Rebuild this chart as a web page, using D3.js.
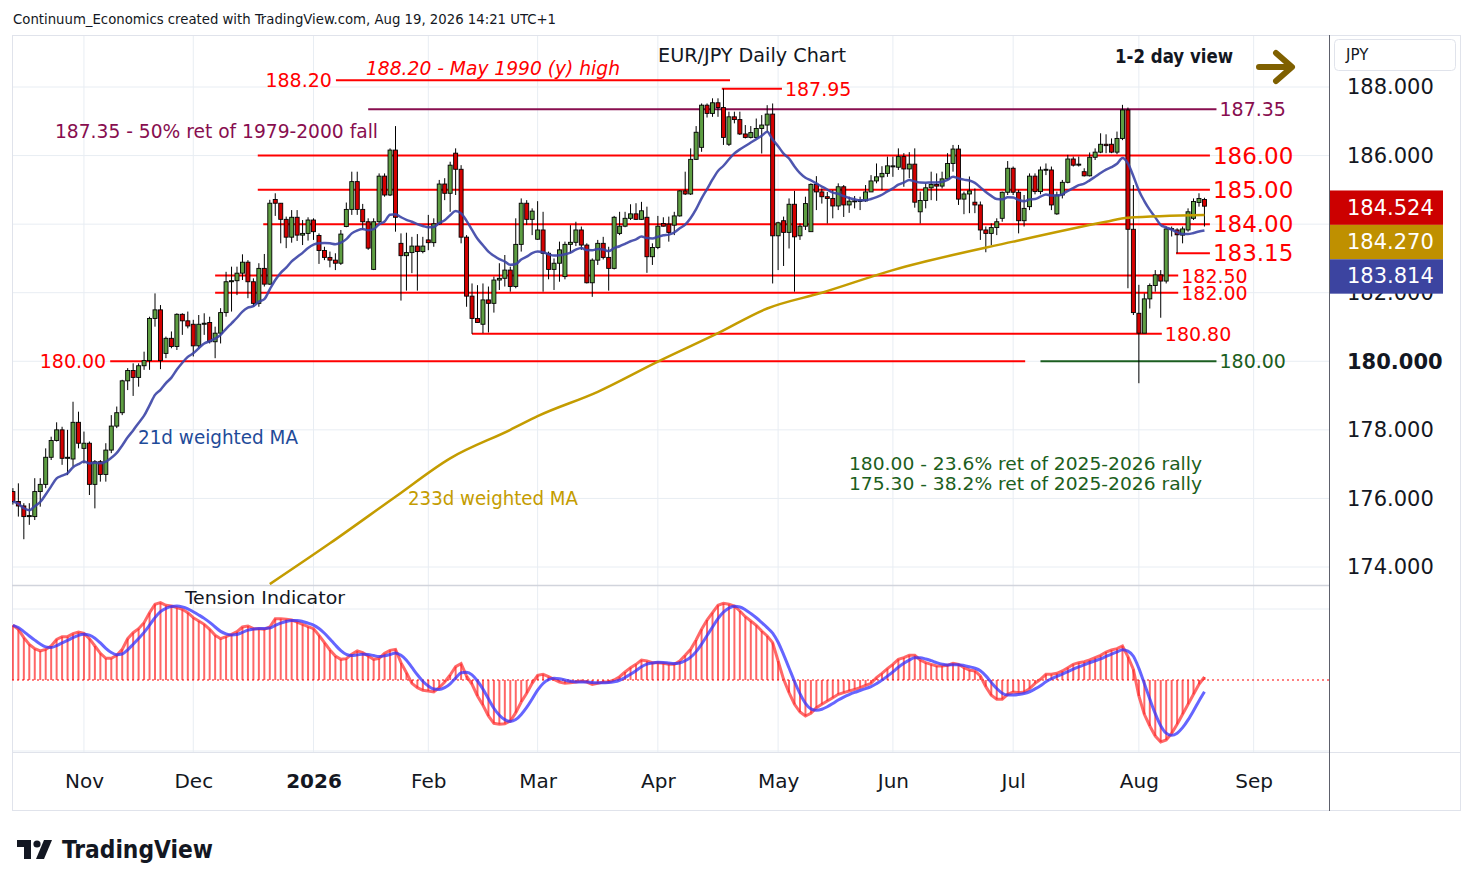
<!DOCTYPE html>
<html>
<head>
<meta charset="utf-8"/>
<style>
  body { margin: 0; background: white; }
  text { font-family: "DejaVu Sans", sans-serif; }
  .cond { font-family: "DejaVu Sans Condensed", "DejaVu Sans", sans-serif; }
</style>
<script src="https://d3js.org/d3.v7.min.js"></script>
</head>
<body>
<script>
var width = 1474, height = 887;

// first trading bar of each month, and its axis label
var monthIdx = [13, 33, 55, 76, 96, 118, 140, 161, 183, 206, 227];
var monthLabels = ["Nov", "Dec", "2026", "Feb", "Mar", "Apr", "May", "Jun", "Jul", "Aug", "Sep"];
var priceTicks = [174, 176, 178, 180, 182, 184, 186, 188];

// daily EUR/JPY bars, 15 Oct 2025 .. 19 Aug 2026
var opens = [
176.20,175.91,175.78,175.47,175.47,176.20,176.41,177.20,177.69,178.00,
177.17,177.15,178.22,177.46,177.61,176.41,177.07,176.70,177.41,178.11,
178.50,179.43,179.73,179.53,179.87,180.02,181.25,181.50,180.23,180.67,
180.43,181.37,181.18,181.08,180.45,181.08,181.13,180.57,180.82,181.42,
182.32,182.35,182.57,182.89,182.32,181.69,182.71,182.25,184.72,184.61,
184.14,183.62,184.20,183.68,183.73,184.12,183.67,183.23,183.03,182.95,
182.86,183.93,184.43,185.24,184.43,184.07,182.68,184.07,185.40,184.85,
186.16,183.44,183.08,183.17,183.36,183.20,183.54,183.46,184.01,185.17,
184.90,186.07,185.60,183.62,181.90,181.25,181.08,181.79,181.69,182.37,
182.42,182.66,182.18,183.41,184.61,184.14,183.56,183.83,183.15,182.68,
182.86,182.47,183.41,183.47,183.83,183.39,182.29,182.95,183.44,183.03,
182.71,183.73,183.94,184.17,184.30,184.14,184.20,183.05,183.32,184.02,
184.00,183.97,184.24,184.97,184.88,185.89,186.24,187.47,187.23,187.54,
187.40,186.33,187.13,187.05,186.63,186.53,186.53,186.79,186.89,187.21,
183.66,184.10,183.76,184.58,183.66,183.94,183.78,185.16,184.94,184.80,
184.75,184.53,185.09,184.56,184.67,184.66,184.68,184.94,185.26,185.38,
185.48,185.68,185.66,185.97,185.61,185.75,184.36,184.69,185.06,185.16,
185.11,185.32,185.77,186.19,184.73,184.88,184.64,184.56,183.83,183.73,
183.90,184.17,184.93,185.63,184.93,184.10,184.51,185.40,184.95,185.58,
185.58,184.30,184.85,185.22,185.90,185.74,185.53,185.41,185.95,186.10,
186.33,186.33,186.10,186.50,187.33,183.85,181.40,180.82,181.82,182.21,
182.52,182.34,183.86,183.83,183.68,183.83,184.17,184.63,184.72];
var highs = [
176.30,176.44,175.86,175.86,176.59,176.59,177.46,177.80,178.22,178.09,
178.00,178.82,178.53,177.95,177.66,177.12,177.12,177.61,178.43,178.68,
179.46,179.80,179.94,179.94,180.28,181.30,181.98,181.64,180.72,180.87,
181.40,181.40,181.45,181.21,181.35,181.40,181.30,181.01,181.55,182.61,
182.76,182.76,183.12,182.95,182.42,182.86,183.13,184.71,184.90,184.61,
184.22,184.41,184.41,184.12,184.20,184.17,183.73,183.34,183.20,183.15,
183.83,184.63,185.53,185.53,184.59,184.17,184.17,185.48,185.48,186.21,
186.86,183.73,183.75,183.63,183.71,183.63,184.27,184.17,185.29,185.34,
185.82,186.21,185.72,183.68,182.27,182.22,182.27,182.18,182.47,182.86,
183.10,182.76,184.17,184.75,184.70,184.46,184.67,184.36,183.20,183.00,
183.49,183.49,183.97,184.07,183.93,183.44,183.00,183.54,183.63,183.34,
184.24,184.36,184.36,184.58,184.61,184.65,184.51,183.44,184.24,184.20,
184.22,184.36,184.99,185.53,186.21,186.86,187.52,187.52,187.67,187.67,
187.95,187.28,187.28,187.28,186.89,186.86,187.08,187.18,187.47,187.52,
184.07,184.22,184.75,184.97,184.02,184.80,185.19,185.40,185.04,184.94,
184.99,185.19,185.14,184.80,184.82,184.80,185.14,185.43,185.77,185.69,
185.97,185.97,186.21,186.07,186.10,186.21,184.95,185.19,185.53,185.48,
185.53,186.07,186.31,186.31,184.95,185.39,185.04,184.66,183.93,184.02,
184.17,184.95,185.84,185.68,185.00,184.85,185.48,185.48,185.68,185.77,
185.68,184.95,185.29,186.02,185.97,185.97,185.63,186.09,186.21,186.65,
186.62,186.50,186.70,187.48,187.40,185.14,182.23,181.98,182.27,182.66,
182.66,183.93,183.93,183.88,183.93,184.46,184.75,184.90,184.77];
var lows = [
175.82,175.47,174.81,175.23,175.37,175.76,176.30,177.12,177.66,176.98,
176.68,176.93,177.46,177.02,176.10,175.71,176.49,176.49,177.32,178.05,
178.43,179.16,178.99,179.26,179.75,179.75,181.01,179.77,180.09,180.38,
180.33,180.77,180.96,180.14,180.38,180.77,180.52,180.09,180.52,181.30,
181.45,181.93,182.37,181.84,181.59,181.59,182.18,182.23,184.24,183.44,
183.30,183.46,183.51,183.39,183.52,183.54,182.84,182.95,182.74,182.66,
182.81,183.91,184.27,184.27,183.83,183.25,182.66,184.02,184.80,184.82,
183.78,181.77,182.06,182.57,182.06,183.15,183.24,183.34,183.98,184.70,
184.36,184.85,183.44,181.59,180.80,181.13,180.82,180.84,181.42,182.08,
182.18,182.03,182.13,183.20,183.98,183.68,183.54,182.03,182.39,182.08,
182.32,182.39,183.15,183.36,183.25,182.27,181.88,182.81,182.97,182.06,
182.68,183.68,183.91,184.12,184.12,184.12,182.58,182.81,183.27,183.93,
183.49,183.68,184.22,184.85,184.85,185.87,186.11,187.11,187.13,187.13,
186.31,186.28,186.94,186.60,186.50,186.50,186.50,186.06,186.69,182.27,
182.66,182.78,183.29,182.03,183.54,183.83,183.78,184.41,184.60,184.02,
184.17,184.41,184.21,184.33,184.46,184.41,184.65,184.94,185.19,184.99,
185.38,185.38,185.58,185.09,185.34,184.48,184.02,184.46,184.70,184.68,
185.04,185.29,185.53,184.56,184.29,184.32,184.32,183.54,183.18,183.39,
183.68,184.07,184.85,184.85,183.73,183.93,184.41,184.87,184.87,185.43,
184.41,184.27,184.75,185.19,185.68,185.68,185.39,185.39,185.87,186.07,
186.07,186.07,186.04,186.45,182.13,181.35,179.36,180.82,181.54,182.03,
181.27,182.27,183.64,183.15,183.44,183.78,184.12,184.51,183.93];
var closes = [
175.91,175.78,175.47,175.50,176.20,176.41,177.20,177.69,178.00,177.17,
177.20,178.22,177.61,177.61,176.41,177.07,176.70,177.41,178.11,178.50,
179.43,179.73,179.53,179.87,180.02,181.25,181.50,180.02,180.67,180.43,
181.37,181.18,181.03,180.45,181.08,181.11,180.57,180.82,181.42,182.32,
182.35,182.57,182.89,182.32,181.69,182.71,182.25,184.61,184.61,184.14,
183.62,184.20,183.68,183.73,184.12,183.78,183.23,183.03,182.95,182.86,
183.71,184.43,185.24,184.43,184.07,183.30,184.07,185.40,184.85,186.16,
184.20,183.08,183.17,183.36,183.20,183.36,183.46,184.01,185.17,184.90,
185.72,185.60,183.62,181.90,181.25,181.13,181.79,181.69,182.37,182.42,
182.66,182.18,183.41,184.61,184.14,184.38,183.83,183.15,182.68,182.86,
183.25,183.41,183.47,183.83,183.39,182.29,182.95,183.44,183.03,182.71,
184.20,183.94,184.17,184.30,184.14,184.39,183.05,183.32,183.94,183.94,
183.76,184.24,184.97,184.88,185.89,186.68,187.47,187.23,187.54,187.40,
186.53,187.13,187.05,186.63,186.53,186.67,186.79,186.89,187.21,183.66,
184.04,183.76,184.58,183.63,183.94,184.60,185.16,184.94,184.80,184.75,
184.53,185.09,184.56,184.67,184.68,184.70,184.94,185.26,185.38,185.48,
185.70,185.70,185.97,185.61,185.75,184.64,184.69,185.06,185.16,185.11,
185.32,185.77,186.19,184.73,184.88,184.97,184.56,183.83,183.73,183.90,
184.07,184.93,185.63,184.93,184.10,184.46,185.40,184.95,185.58,185.60,
184.56,184.85,185.22,185.90,185.72,185.75,185.41,185.95,186.10,186.33,
186.29,186.10,186.50,187.33,183.85,181.42,180.82,181.82,182.21,182.52,
182.34,183.86,183.87,183.69,183.86,184.36,184.66,184.75,184.524];

// 233d weighted MA, read at these bars (it runs below the panel before bar 47)
var ma233Idx = [47, 58, 70, 80, 91, 96, 107, 118, 129, 138, 148, 161, 183, 200, 204, 218];
var ma233 = [173.50, 174.69, 176.05, 177.17, 178.00, 178.40, 179.11, 179.99, 180.82, 181.54,
             182.00, 182.66, 183.49, 184.07, 184.19, 184.27];

// Tension Indicator (red), one value per bar, panel units
var tension = [
164,152,127,107,94,87,92,102,122,130,
130,139,144,140,124,102,80,65,65,74,
92,124,142,154,172,202,227,232,224,222,
217,212,202,187,177,167,152,134,124,130,
137,145,159,162,154,154,152,159,184,184,
182,180,174,167,160,154,134,112,90,72,
62,64,77,87,82,72,62,65,80,89,
92,52,22,-10,-23,-31,-33,-36,-23,-6,
15,40,49,12,-13,-48,-76,-108,-130,-133,
-131,-123,-98,-66,-40,-10,14,17,10,2,
-6,-10,-8,-6,-3,-6,-13,-10,-6,-6,
0,10,24,37,47,60,57,52,52,50,
47,47,57,74,92,120,152,180,202,224,
230,227,222,207,190,177,164,147,132,112,
57,2,-38,-73,-96,-108,-100,-83,-73,-63,
-53,-43,-38,-33,-28,-23,-16,-10,7,20,
34,47,62,67,74,74,60,52,47,42,
42,44,50,47,37,30,27,12,-20,-46,
-58,-58,-43,-36,-38,-36,-26,-10,2,17,
17,20,27,37,47,52,55,60,67,74,
84,90,94,102,70,32,-48,-103,-138,-168,
-186,-180,-160,-133,-103,-73,-43,-13,9];

var RED = "#ff0000", PURPLE = "#880e4f", GREEN = "#1b5e20", GOLD = "#c49c00", NAVY = "#3b44a6";

function wma(arr, n) {
  return arr.map(function(v, i) {
    var s = 0, w = 0;
    for (var k = 0; k < n && i - k >= 0; k++) { s += arr[i - k] * (n - k); w += n - k; }
    return s / w;
  });
}
var ma21 = wma(closes, 21);
var signal = wma(tension, 6);
var bars = d3.range(closes.length);

var x = d3.scaleLinear().domain([0, 240]).range([12.9, 1324.7]);
var y = d3.scaleLinear().domain([174, 188]).range([567, 87]);
var yi = d3.scaleLinear().domain([-213, 213]).range([751, 609]);

var svg = d3.select("body").append("svg").attr("width", width).attr("height", height);
svg.append("rect").attr("width", width).attr("height", height).attr("fill", "white");

var defs = svg.append("defs");
defs.append("clipPath").attr("id", "main").append("rect")
  .attr("x", 12).attr("y", 35).attr("width", 1317).attr("height", 550);
defs.append("clipPath").attr("id", "ind").append("rect")
  .attr("x", 12).attr("y", 586).attr("width", 1317).attr("height", 166);

// header
svg.append("text").attr("class", "cond").attr("x", 13).attr("y", 24)
  .attr("font-size", 14).attr("fill", "#131722")
  .attr("textLength", 543).attr("lengthAdjust", "spacingAndGlyphs")
  .text("Continuum_Economics created with TradingView.com, Aug 19, 2026 14:21 UTC+1");

// grid
var grid = svg.append("g").attr("stroke", "#e8edf3").attr("stroke-width", 1);
grid.selectAll("line.v").data(monthIdx.filter(function(d) { return x(d) < 1329; })).join("line")
  .attr("x1", function(d) { return x(d); }).attr("x2", function(d) { return x(d); })
  .attr("y1", 35).attr("y2", 752);
grid.selectAll("line.h").data(priceTicks).join("line")
  .attr("x1", 12).attr("x2", 1329)
  .attr("y1", function(d) { return y(d); }).attr("y2", function(d) { return y(d); });
grid.selectAll("line.hi").data([213, -213]).join("line")
  .attr("x1", 12).attr("x2", 1329)
  .attr("y1", function(d) { return yi(d); }).attr("y2", function(d) { return yi(d); });

// frame and pane separators
svg.append("rect").attr("x", 12.5).attr("y", 35.5).attr("width", 1448).attr("height", 775)
  .attr("fill", "none").attr("stroke", "#e0e3eb");
svg.append("line").attr("x1", 12).attr("x2", 1329).attr("y1", 585.5).attr("y2", 585.5)
  .attr("stroke", "#d1d4dc").attr("stroke-width", 1.5);
svg.append("line").attr("x1", 12).attr("x2", 1461).attr("y1", 752.5).attr("y2", 752.5)
  .attr("stroke", "#e0e3eb");
svg.append("line").attr("x1", 1329.5).attr("x2", 1329.5).attr("y1", 35).attr("y2", 811)
  .attr("stroke", "#5d606b").attr("stroke-width", 1);

// level lines
var levels = [
  {p: 188.20, a: 59.1, b: 131.2, col: RED, label: "188.20", side: "left", fs: 19},
  {p: 187.95, a: 129.7, b: 140.7, col: RED, label: "187.95", side: "right", fs: 19},
  {p: 187.35, a: 65, b: 220.2, col: PURPLE, label: "187.35", side: "right", fs: 19},
  {p: 186.00, a: 44.8, b: 219, col: RED, label: "186.00", side: "right", fs: 23},
  {p: 185.00, a: 44.8, b: 219, col: RED, label: "185.00", side: "right", fs: 23},
  {p: 184.00, a: 45.8, b: 219, col: RED, label: "184.00", side: "right", fs: 23},
  {p: 183.15, a: 212.8, b: 219, col: RED, label: "183.15", side: "right", fs: 23},
  {p: 182.50, a: 37, b: 213.2, col: RED, label: "182.50", side: "right", fs: 19},
  {p: 182.00, a: 37, b: 213.2, col: RED, label: "182.00", side: "right", fs: 19},
  {p: 180.80, a: 84, b: 210.2, col: RED, label: "180.80", side: "right", fs: 19},
  {p: 180.00, a: 17.8, b: 185.2, col: RED, label: "180.00", side: "left", fs: 19},
  {p: 180.00, a: 188, b: 220.2, col: GREEN, label: "180.00", side: "right", fs: 19}
];
var lv = svg.append("g");
lv.selectAll("line").data(levels).join("line")
  .attr("x1", function(d) { return x(d.a); }).attr("x2", function(d) { return x(d.b); })
  .attr("y1", function(d) { return y(d.p); }).attr("y2", function(d) { return y(d.p); })
  .attr("stroke", function(d) { return d.col; }).attr("stroke-width", 2);
lv.selectAll("text").data(levels).join("text")
  .attr("x", function(d) { return d.side === "left" ? x(d.a) - 4 : x(d.b) + 3; })
  .attr("y", function(d) { return y(d.p); })
  .attr("dominant-baseline", "central")
  .attr("text-anchor", function(d) { return d.side === "left" ? "end" : "start"; })
  .attr("font-size", function(d) { return d.fs; })
  .attr("fill", function(d) { return d.col; })
  .text(function(d) { return d.label; });

// candles
var main = svg.append("g").attr("clip-path", "url(#main)");
main.selectAll("line.wick").data(bars).join("line")
  .attr("x1", function(i) { return x(i); }).attr("x2", function(i) { return x(i); })
  .attr("y1", function(i) { return y(highs[i]); }).attr("y2", function(i) { return y(lows[i]); })
  .attr("stroke", "#000").attr("stroke-width", 1);
main.selectAll("rect.body").data(bars).join("rect")
  .attr("x", function(i) { return x(i) - 2; })
  .attr("y", function(i) { return y(Math.max(opens[i], closes[i])); })
  .attr("width", 4)
  .attr("height", function(i) { return Math.max(1, Math.abs(y(opens[i]) - y(closes[i]))); })
  .attr("fill", function(i) { return closes[i] >= opens[i] ? "#5e9e42" : "#d40000"; })
  .attr("stroke", "#000").attr("stroke-width", 0.9);

// moving averages
main.append("path").datum(bars)
  .attr("d", d3.line().x(function(i) { return x(i); }).y(function(i) { return y(ma21[i]); }).curve(d3.curveMonotoneX))
  .attr("fill", "none").attr("stroke", NAVY).attr("stroke-opacity", 0.9).attr("stroke-width", 2.5);
main.append("path").datum(d3.range(ma233.length))
  .attr("d", d3.line().x(function(k) { return x(ma233Idx[k]); }).y(function(k) { return y(ma233[k]); }).curve(d3.curveMonotoneX))
  .attr("fill", "none").attr("stroke", GOLD).attr("stroke-width", 2.5);

// free annotations
function note(t, px, py, fs, col, len, extra) {
  var el = svg.append("text").attr("class", "cond").attr("x", px).attr("y", py)
    .attr("font-size", fs).attr("fill", col)
    .attr("textLength", len).attr("lengthAdjust", "spacingAndGlyphs").text(t);
  if (extra) extra(el);
  return el;
}
note("EUR/JPY Daily Chart", 658, 62, 19, "#131722", 188);
note("1-2 day view", 1115, 63, 19, "#131722", 118, function(e) { e.attr("font-weight", "bold"); });
note("188.20 - May 1990 (y) high", 366, 75, 19, RED, 254, function(e) { e.attr("font-style", "italic"); });
note("187.35 - 50% ret of 1979-2000 fall", 55, 138, 19, PURPLE, 323);
note("21d weighted MA", 138, 444, 19, "#1f4b99", 160);
note("233d weighted MA", 408, 505, 19, GOLD, 170);
note("180.00 - 23.6% ret of 2025-2026 rally", 849, 470, 18, GREEN, 353);
note("175.30 - 38.2% ret of 2025-2026 rally", 849, 490, 18, GREEN, 353);

svg.append("path").attr("d", "M1259,67 L1290,67 M1276,53 L1292,67 L1276,81")
  .attr("fill", "none").attr("stroke", "#7f6000").attr("stroke-width", 6)
  .attr("stroke-linecap", "round").attr("stroke-linejoin", "round");

// Tension Indicator
var ind = svg.append("g").attr("clip-path", "url(#ind)");
ind.append("line").attr("x1", 12).attr("x2", 1329).attr("y1", yi(0)).attr("y2", yi(0))
  .attr("stroke", RED).attr("stroke-dasharray", "2,3");
ind.selectAll("line.hist").data(bars).join("line")
  .attr("x1", function(i) { return x(i); }).attr("x2", function(i) { return x(i); })
  .attr("y1", yi(0)).attr("y2", function(i) { return yi(tension[i]); })
  .attr("stroke", "rgba(255,0,0,0.6)").attr("stroke-width", 2);
ind.append("path").datum(bars)
  .attr("d", d3.line().x(function(i) { return x(i); }).y(function(i) { return yi(tension[i]); }))
  .attr("fill", "none").attr("stroke", "rgba(255,40,40,0.7)").attr("stroke-width", 3);
ind.append("path").datum(bars)
  .attr("d", d3.line().x(function(i) { return x(i); }).y(function(i) { return yi(signal[i]); }).curve(d3.curveMonotoneX))
  .attr("fill", "none").attr("stroke", "rgba(50,50,255,0.75)").attr("stroke-width", 3);
note("Tension Indicator", 185, 604, 18, "#131722", 160);

// time axis
var xAxis = d3.axisBottom(x).tickValues(monthIdx).tickSize(0)
  .tickFormat(function(d, k) { return monthLabels[k]; });
var gx = svg.append("g").attr("transform", "translate(0,771)").call(xAxis);
gx.select(".domain").remove();
gx.selectAll("text").attr("font-family", "DejaVu Sans").attr("font-size", 20).attr("fill", "#131722")
  .attr("font-weight", function(d, k) { return monthLabels[k] === "2026" ? "bold" : "normal"; });

// price axis (184.000 sits under the last-value tags, as in the original)
var yAxis = d3.axisRight(y).tickValues(priceTicks.filter(function(d) { return d !== 184; }))
  .tickSize(0).tickFormat(d3.format(".3f"));
var gy = svg.append("g").attr("transform", "translate(1347,0)").call(yAxis);
gy.select(".domain").remove();
gy.selectAll("text").attr("x", 0).attr("font-family", "DejaVu Sans").attr("font-size", 21)
  .attr("fill", "#131722").attr("font-weight", function(d) { return d === 180 ? "bold" : "normal"; });

svg.append("rect").attr("x", 1334.5).attr("y", 39.5).attr("width", 121).attr("height", 31).attr("rx", 4)
  .attr("fill", "white").attr("stroke", "#e0e3eb");
svg.append("text").attr("x", 1346).attr("y", 60).attr("font-size", 15).attr("fill", "#131722").text("JPY");

// last-value tags
var tags = [
  {v: closes[closes.length - 1], col: "#cc0000"},
  {v: ma233[ma233.length - 1], col: "#bf9000"},
  {v: ma21[ma21.length - 1], col: "#3c44a0"}
];
var tagH = 34.4, prevBottom = -1e9;
tags.forEach(function(t) {
  var top = Math.max(y(t.v) - tagH / 2 + 1.5, prevBottom);
  prevBottom = top + tagH;
  svg.append("rect").attr("x", 1330).attr("y", top).attr("width", 113).attr("height", tagH).attr("fill", t.col);
  svg.append("text").attr("x", 1347).attr("y", top + tagH / 2).attr("dominant-baseline", "central")
    .attr("font-size", 21).attr("fill", "white").text(d3.format(".3f")(t.v));
});

// TradingView logo
var logo = svg.append("g").attr("fill", "#131722");
logo.append("path").attr("d", "M17,840 H31 V859 H24 V847 H17 Z");
logo.append("circle").attr("cx", 37).attr("cy", 844).attr("r", 3.6);
logo.append("path").attr("d", "M44,840 H52 L44,859 H36 Z");
logo.append("text").attr("class", "cond").attr("x", 62).attr("y", 858).attr("font-size", 24)
  .attr("font-weight", "bold").attr("textLength", 151).attr("lengthAdjust", "spacingAndGlyphs")
  .text("TradingView");
</script>
</body>
</html>
